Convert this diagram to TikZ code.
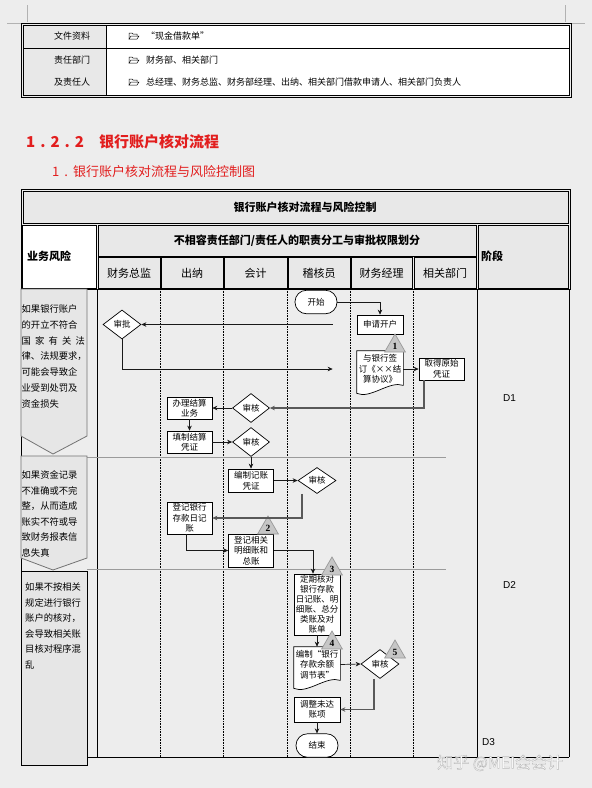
\documentclass[tikz,border=0pt]{standalone}
\usepackage{fontspec}
\setmainfont{Noto Sans CJK SC}
\newfontfamily\arialfont{Liberation Sans}
\newfontfamily\timesfont{Liberation Serif}
\usepackage{tikz}
\usetikzlibrary{arrows.meta,positioning,shapes.geometric,backgrounds,calc}
\definecolor{pageBg}{RGB}{237,237,237}
\definecolor{cellBg}{RGB}{232,232,232}
\definecolor{riskBg}{RGB}{230,230,230}
\definecolor{markBg}{RGB}{198,198,198}
\definecolor{headRed}{RGB}{226,30,30}
\definecolor{phaseLn}{RGB}{155,155,155}

\begin{document}
\begin{tikzpicture}[x=1pt,y=-1pt,
  box/.style={draw,fill=white,line width=0.7pt,inner sep=0pt,align=center,font=\fontsize{8.5}{10.5}\selectfont},
  doc/.style={box,draw=none,fill=none},
  dia/.style={diamond,draw,fill=white,line width=0.7pt,inner sep=0pt,minimum width=38pt,minimum height=29pt,font=\fontsize{8.5}{10}\selectfont},
  term/.style={box,rounded corners=11.5pt,minimum width=42pt,minimum height=23.5pt},
  tri/.style={regular polygon,regular polygon sides=3,draw=black!40,fill=markBg,line width=0.7pt,minimum size=24pt,inner sep=0pt,font=\timesfont\bfseries\fontsize{9.5}{9.5}\selectfont},
  wire/.style={draw=black!90,line width=0.7pt,-{Stealth[length=5pt,width=4.5pt]}},
  wireg/.style={wire,draw=black!65,line width=1.1pt},
  cell/.style={draw,fill=cellBg,line width=0.6pt},
  lane/.style={densely dotted,line width=0.6pt},
  riskln/.style={anchor=west,inner sep=0pt,font=\fontsize{9.3}{9.3}\selectfont},
  hdr/.style={inner sep=0pt,font=\bfseries\fontsize{11}{11}\selectfont}]
  \useasboundingbox (0,0) rectangle (592,788);
  \begin{scope}[on background layer]
    \fill[pageBg] (0,0) rectangle (592,788);
  \end{scope}

  % page corner marks
  \draw[black!30,line width=0.5pt] (27,5) -- (27,22) (7,23) -- (21,23)
    (565,5) -- (565,22) (572,23) -- (585,23);

  % info table
  \fill[cellBg] (23,25) rectangle (106,95);
  \fill[white] (106,25) rectangle (569,95);
  \draw[line width=0.6pt] (21,23) rectangle (571,97) (23,25) rectangle (569,95);
  \draw[line width=0.6pt] (106,25) -- (106,95) (23,48) -- (569,48);
  \foreach \y/\lab/\txt [count=\i] in {36/文件资料/“现金借款单”,60/责任部门/财务部、相关部门,82/及责任人/总经理、财务总监、财务部经理、出纳、相关部门借款申请人、相关部门负责人} {
    \node[font=\fontsize{9}{9}\selectfont] (lab\i) at (72,\y) {\lab};
    \node[anchor=west,inner sep=0pt,font=\fontsize{9}{9}\selectfont] (info\i) at (146,\y) {\txt};
    \draw[line width=0.5pt] (129,\y+3) -- (129,\y-3) -- (132,\y-3) -- (133,\y-2) -- (137,\y-2) -- (137,\y);
    \draw[line width=0.5pt] (129,\y+3) -- (131,\y) -- (139,\y) -- (137,\y+3) -- cycle;
  }

  % headings
  \node[anchor=west,inner sep=0pt,text=headRed,font=\bfseries\fontsize{15}{15}\selectfont] (sec) at (26,142)
    {1\hspace{5pt}.\hspace{5pt}2\hspace{5pt}.\hspace{5pt}2\hspace{15pt}银行账户核对流程};
  \node[anchor=west,inner sep=0pt,text=headRed,font=\fontsize{13}{13}\selectfont] (subsec) at (52,172)
    {1\hspace{5pt}.\hspace{5pt}银行账户核对流程与风险控制图};

  % chart header
  \draw[line width=0.6pt] (21,189) rectangle (570,289);
  \draw[cell] (23,191) rectangle (568,223);
  \node[hdr] (title) at (305,207) {银行账户核对流程与风险控制};
  \draw[cell,fill=white] (22,225) rectangle (96,288);
  \node[hdr,anchor=west] (risk) at (27,256) {业务风险};
  \draw[cell] (98,225) rectangle (476,256);
  \node[hdr] (duty) at (297,241) {不相容责任部门/责任人的职责分工与审批权限划分};
  \draw[cell] (478,225) rectangle (568,288);
  \node[hdr,anchor=west] (stage) at (481,256) {阶段};
  \foreach \a/\b/\name [count=\i] in {98/160/财务总监,161/223/出纳,224/287/会计,288/350/稽核员,351/412/财务经理,414/476/相关部门} {
    \draw[cell] (\a,257) rectangle (\b,288);
    \node[font=\fontsize{11}{11}\selectfont] (col\i) at ({(\a+\b)/2},273) {\name};
  }

  % lanes
  \draw[line width=0.7pt] (21,289) -- (21,571) (97,289) -- (97,757) (477,289) -- (477,757)
    (569,289) -- (569,757) (87,757) -- (569,757);
  \foreach \i in {1,...,5}
    \draw[lane] ({97+63.33*\i},289) -- ({97+63.33*\i},757);
  \draw[phaseLn,line width=0.8pt] (87,457) -- (446,457) (87,569) -- (446,569);

  % risks
  \filldraw[fill=riskBg,draw=black!55,line width=0.8pt] (21,289) -- (87,289) -- (87,436) -- (53,454) -- (21,436) -- cycle;
  \filldraw[fill=riskBg,draw=black!55,line width=0.8pt] (21,456) -- (87,456) -- (87,558) -- (53,570) -- (21,558) -- cycle;
  \filldraw[fill=riskBg,draw=black,line width=0.8pt] (21,571) rectangle (87,765);
  \foreach \t [count=\i] in {如果银行账户,的开立不符合,国\ \ 家\ \ 有\ \ 关\ \ 法,律、法规要求，,可能会导致企,业受到处罚及,资金损失}
    \node[riskln] (ra\i) at (21.5,{309+15.8*(\i-1)}) {\t};
  \foreach \t [count=\i] in {如果资金记录,不准确或不完,整，从而造成,账实不符或导,致财务报表信,息失真}
    \node[riskln] (rb\i) at (21.5,{475+15.6*(\i-1)}) {\t};
  \foreach \t [count=\i] in {如果不按相关,规定进行银行,账户的核对，,会导致相关账,目核对程序混,乱}
    \node[riskln] (rc\i) at (25,{587+15.6*(\i-1)}) {\t};

  % flow
  \node[term] (start) at (316,302) {开始};
  \node[box,minimum width=46pt,minimum height=19pt] (apply) at (380,324.5) {申请开户};
  \node[dia] (approve) at (122,324.5) {审批};
  \node[doc,minimum width=46pt,minimum height=36pt] (sign) at (380,369) {与银行签\\订《××结\\算协议》};
  \node[box,minimum width=45pt,minimum height=22pt] (voucher) at (441.5,369) {取得原始\\凭证};
  \node[dia,minimum width=37pt] (check1) at (251,408) {审核};
  \node[box,minimum width=45pt,minimum height=22pt] (settle) at (189.5,408) {办理结算\\业务};
  \node[box,minimum width=45pt,minimum height=22pt] (fillv) at (189.5,442) {填制结算\\凭证};
  \node[dia,minimum width=37pt] (check2) at (251,442) {审核};
  \node[box,minimum width=45pt,minimum height=23pt] (entry) at (251,480.5) {编制记账\\凭证};
  \node[dia,minimum height=26pt] (check3) at (317,480.5) {审核};
  \node[box,minimum width=45pt,minimum height=32pt] (cashbook) at (189.5,518) {登记银行\\存款日记\\账};
  \node[box,minimum width=45pt,minimum height=33pt] (ledger) at (251,550.5) {登记相关\\明细账和\\总账};
  \node[box,minimum width=46pt,minimum height=61pt,font=\fontsize{8.5}{10}\selectfont] (recon) at (317,604.5)
    {定期核对\\银行存款\\日记账、明\\细账、总分\\类账及对\\账单};
  \node[doc,minimum width=46pt,minimum height=35pt] (table) at (317,664.5) {编制“银行\\存款余额\\调节表”};
  \node[dia] (check4) at (380,664) {审核};
  \node[box,minimum width=46pt,minimum height=25pt] (adjust) at (317,709.5) {调整未达\\账项};
  \node[term] (finish) at (317,745.5) {结束};

  % document outlines
  \begin{scope}[on background layer]
    \foreach \d in {sign,table}
      \filldraw[fill=white,line width=0.7pt] (\d.north west) -- (\d.north east) -- ([yshift=2pt]\d.south east)
        .. controls +(-14,-5) and +(14,6) .. ([yshift=-6pt]\d.south west) -- cycle;
  \end{scope}

  % control points
  \node[tri] (m1) at (395,346) {1};
  \node[tri] (m2) at (268,528) {2};
  \node[tri] (m3) at (332,569) {3};
  \node[tri] (m4) at (332,643) {4};
  \node[tri] (m5) at (395,652) {5};

  % connectors
  \draw[wire] (start.east) -| (apply.north);
  \draw[wire,shorten <=24pt] (apply.west) -- (approve.east);
  \draw[wire,shorten >=24pt] (approve.south) |- (sign.west);
  \draw[wire] (sign.east) -- (voucher.west);
  \draw[wireg] ([xshift=-17.5pt]voucher.south) |- (check1.east);
  \draw[wire] (check1.west) -- (settle.east);
  \draw[wire] (settle.south) -- (fillv.north);
  \draw[wire] (fillv.east) -- (check2.west);
  \draw[wire] (check2.south) -- (entry.north);
  \draw[wire] (entry.east) -- (check3.west);
  \draw[wireg] ([xshift=-15pt]check3.south) |- (cashbook.east);
  \draw[wire] ([xshift=-3pt]cashbook.south) |- (ledger.west);
  \draw[wire] (ledger.east) -| ([xshift=-4pt]recon.north);
  \draw[wire] (recon.south) -- (table.north);
  \draw[wire] (table.east) -- (check4.west);
  \draw[wireg] ([xshift=-6pt]check4.south) |- (adjust.east);
  \draw[wire] (adjust.south) -- (finish.north);

  % stages
  \node[anchor=west,inner sep=0pt,font=\arialfont\fontsize{10}{10}\selectfont] (d1) at (503,398) {D1};
  \node[anchor=west,inner sep=0pt,font=\arialfont\fontsize{10}{10}\selectfont] (d2) at (503,585) {D2};
  \node[anchor=west,inner sep=0pt,font=\arialfont\fontsize{10}{10}\selectfont] (d3) at (482,742) {D3};

  \node[anchor=west,inner sep=0pt,text=white,font=\fontsize{16}{16}\selectfont] (mark) at (437,763)
    {\special{pdf:literal 2 Tr 0.4 w 0.72 G}知乎 @MEI会会计};
\end{tikzpicture}
\end{document}
